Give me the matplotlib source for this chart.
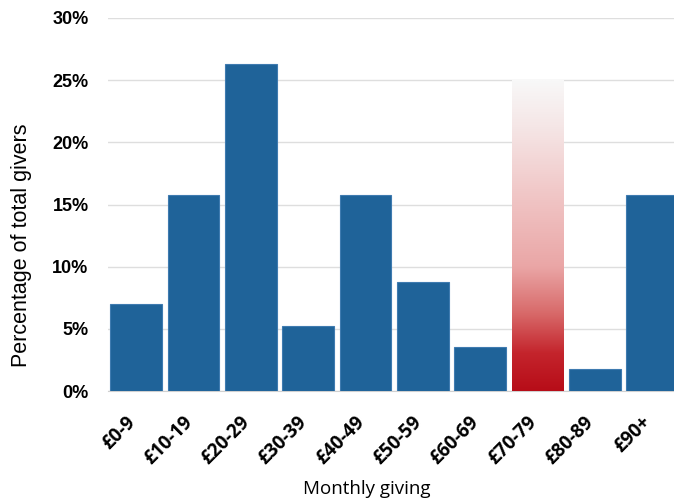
import matplotlib
matplotlib.use("Agg")
import matplotlib.pyplot as plt
import matplotlib.transforms as mtrans
import numpy as np
from matplotlib.colors import LinearSegmentedColormap
from matplotlib.ticker import PercentFormatter

# data: share of givers per monthly giving band
bands = ['£0-9', '£10-19', '£20-29', '£30-39', '£40-49',
         '£50-59', '£60-69', '£70-79', '£80-89', '£90+']
pct = [7.02, 15.79, 26.32, 5.26, 15.79, 8.77, 3.51, 0.0, 1.75, 15.79]
highlight_band = '£70-79'
highlight_top = 25.0

fig = plt.figure(figsize=(6.74, 5.03), dpi=100)
ax = fig.add_axes([108 / 674, 112 / 503, 573 / 674, 373 / 503])

x = np.arange(len(bands))
w = 0.905
ax.bar(x, pct, width=w, color='#1f6399', edgecolor='#3f7bb0', linewidth=0.8, zorder=3)

# gradient highlight bar
cmap = LinearSegmentedColormap.from_list('hl', [
    (0.0, '#b70d18'), (0.12, '#c4242c'), (0.25, '#d86a6a'),
    (0.4, '#eaa6a6'), (0.65, '#f1c9c9'), (0.85, '#f5e6e6'), (1.0, '#f8f8f8')])
hi = bands.index(highlight_band)
grad = np.linspace(0, 1, 256).reshape(-1, 1)
ax.imshow(grad, cmap=cmap, origin='lower', aspect='auto', zorder=3,
          extent=(x[hi] - w / 2, x[hi] + w / 2, 0, highlight_top))

ax.set_xlim(-0.49, 9.5)
ax.set_ylim(0, 30)
ax.set_yticks(np.arange(0, 31, 5))
ax.yaxis.set_major_formatter(PercentFormatter(decimals=0))
ax.grid(axis='y', color='#dedede', linewidth=1, zorder=0)
for s in ['top', 'right', 'left']:
    ax.spines[s].set_visible(False)
ax.spines['bottom'].set_color('#d0d0d0')
ax.tick_params(axis='both', length=0)
ax.tick_params(axis='y', pad=14)

for lab in ax.get_yticklabels():
    lab.set_fontfamily('Liberation Sans')
    lab.set_fontweight('bold')
    lab.set_fontsize(13)

ax.set_xticks(x)
ax.set_xticklabels(bands, rotation=45, ha='right', va='center', rotation_mode='anchor',
                   fontsize=13.5, fontweight='bold', family='Open Sans')
ax.tick_params(axis='x', pad=20.5)
shift = mtrans.ScaledTranslation(-4 / 100, 0, fig.dpi_scale_trans)
for lab in ax.get_xticklabels():
    lab.set_transform(lab.get_transform() + shift)

fig.text(22 / 674, 1 - 245 / 503, 'Percentage of total givers', rotation=90,
         ha='center', va='center', fontsize=15.5, family='Liberation Sans')
fig.text(367 / 674, 14 / 503, 'Monthly giving', ha='center', va='center',
         fontsize=13.5, family='Open Sans')

fig.savefig('out.png', dpi=100)
